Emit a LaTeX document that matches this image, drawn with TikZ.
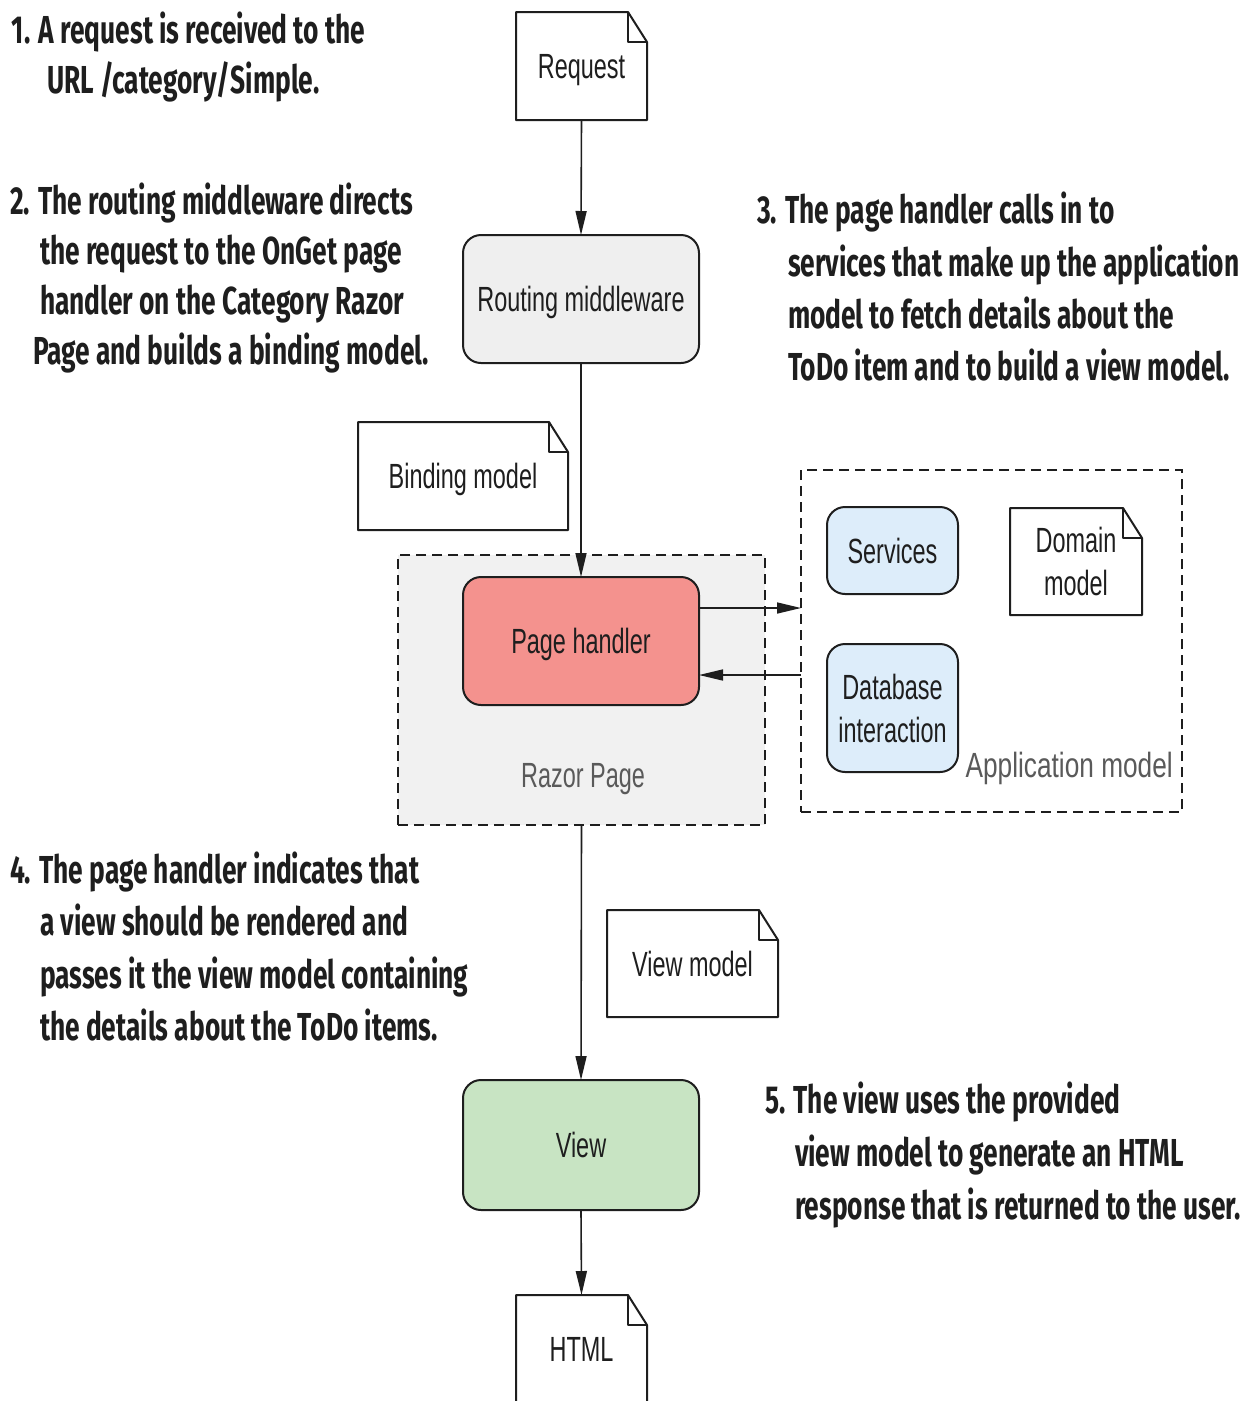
\documentclass[tikz,border=0pt]{standalone}
\usepackage{fontspec}
\usetikzlibrary{arrows.meta}
\newfontfamily\boxfont[FakeStretch=0.67]{Liberation Sans}
\newfontfamily\widelblfont[FakeStretch=0.75]{Liberation Sans}
\newfontfamily\annfont[FakeStretch=0.675]{Fira Sans}
\definecolor{rtgrey}{HTML}{EFEFEF}
\definecolor{razorbg}{HTML}{F1F1F1}
\definecolor{phred}{HTML}{F4928E}
\definecolor{svcblue}{HTML}{DDEDFA}
\definecolor{viewgreen}{HTML}{C8E4C3}
\definecolor{lblgrey}{HTML}{5A5A5A}
\definecolor{ink}{HTML}{1E1E1E}
\newcommand\docoutline[1]{%
  \draw[boxline] (#1.south west) -- (#1.north west) -- ([xshift=-19pt]#1.north east)
    -- ([yshift=-30pt]#1.north east) -- (#1.south east) -- cycle;
  \draw[boxline] ([xshift=-19pt]#1.north east) -- ([xshift=-19pt,yshift=-30pt]#1.north east)
    -- ([yshift=-30pt]#1.north east);}
\begin{document}
\begin{tikzpicture}[x=1pt,y=-1pt,
  boxline/.style={draw=ink,line width=2pt,line join=round},
  basebox/.style={inner sep=0pt,outer sep=0pt,text=ink,
    font=\boxfont\fontsize{35}{43}\selectfont,align=center},
  docbox/.style={basebox},
  roundbox/.style={basebox,boxline,rounded corners=18pt},
  dashbox/.style={inner sep=0pt,outer sep=0pt,draw=ink,line width=2pt,
    dash pattern=on 10pt off 6pt},
  arr/.style={draw=ink,line width=1.6pt,-{Triangle[length=24pt,width=11pt]}},
  ann/.style={inner sep=0pt,outer sep=0pt,anchor=base west,text=ink,
    font=\annfont\bfseries\fontsize{39}{52}\selectfont},
  lbl/.style={inner sep=0pt,text=lblgrey,font=\boxfont\fontsize{35}{43}\selectfont},
  nodesc/.style={text depth=0pt}]
\useasboundingbox (0,0) rectangle (1255,1401);
\fill[white] (0,0) rectangle (1255,1401);

% documents and boxes
\node[docbox,nodesc,minimum width=131pt,minimum height=108pt] (req) at (581.5,66) {Request};
\docoutline{req}
\node[roundbox,nodesc,fill=rtgrey,minimum width=236pt,minimum height=128pt] (rout) at (581,299) {Routing middleware};
\node[docbox,nodesc,minimum width=210pt,minimum height=108pt] (bind) at (463,476) {Binding model};
\docoutline{bind}
\node[dashbox,fill=razorbg,minimum width=367pt,minimum height=270pt] (razor) at (581.5,690) {};
\node[roundbox,nodesc,fill=phred,minimum width=236pt,minimum height=128pt] (ph) at (581,641) {Page handler};
\node[lbl] (razorlbl) at (583,779) {Razor Page};

\node[dashbox,minimum width=381pt,minimum height=342pt] (app) at (991.5,641) {};
\node[roundbox,nodesc,fill=svcblue,minimum width=131pt,minimum height=87pt] (svc) at (892.5,550.5) {Services};
\node[docbox,minimum width=132pt,minimum height=107pt] (dom) at (1076,561.5) {Domain\\model};
\docoutline{dom}
\node[roundbox,fill=svcblue,minimum width=131pt,minimum height=128pt] (db) at (892.5,708) {Database\\interaction};
\node[lbl,anchor=east,font=\widelblfont\fontsize{35}{43}\selectfont] (applbl) at (1173,768) {Application model};

\node[docbox,minimum width=171pt,minimum height=107pt] (vm) at (692.5,963.5) {View model};
\docoutline{vm}
\node[roundbox,fill=viewgreen,minimum width=236pt,minimum height=130pt] (view) at (581,1145) {View};
\node[docbox,minimum width=131pt,minimum height=108pt] (html) at (581.5,1349) {HTML};
\docoutline{html}

% connectors
\draw[arr] (req.south) -- (rout.north);
\draw[arr] (rout.south) -- (ph.north);
\draw[arr] ([yshift=33pt]ph.east) -- ([yshift=33pt]ph.east -| app.west);
\draw[arr] ([yshift=-34pt]ph.east -| app.west) -- ([yshift=-34pt]ph.east);
\draw[arr] (razor.south) -- (view.north);
\draw[arr] (view.south) -- (html.north);

% annotations
\node[ann] (a1a) at (12,43) {1. A request is received to the};
\node[ann] (a1b) at (47,93) {URL /category/Simple.};

\node[ann] (a2a) at (10,214) {2. The routing middleware directs};
\node[ann] (a2b) at (40,264) {the request to the OnGet page};
\node[ann] (a2c) at (40,314) {handler on the Category Razor};
\node[ann] (a2d) at (33,364) {Page and builds a binding model.};

\node[ann] (a3a) at (757,223) {3. The page handler calls in to};
\node[ann] (a3b) at (788,276) {services that make up the application};
\node[ann] (a3c) at (788,328) {model to fetch details about the};
\node[ann] (a3d) at (788,380) {ToDo item and to build a view model.};

\node[ann] (a4a) at (10,883) {4. The page handler indicates that};
\node[ann] (a4b) at (40,935) {a view should be rendered and};
\node[ann] (a4c) at (40,988) {passes it the view model containing};
\node[ann] (a4d) at (40,1040) {the details about the ToDo items.};

\node[ann] (a5a) at (765,1113) {5. The view uses the provided};
\node[ann] (a5b) at (795,1166) {view model to generate an HTML};
\node[ann] (a5c) at (795,1219) {response that is returned to the user.};
\end{tikzpicture}
\end{document}
